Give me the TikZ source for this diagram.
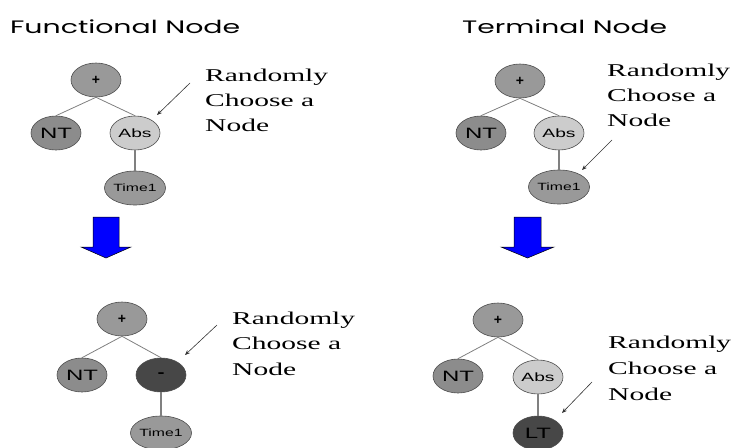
\documentclass[tikz,border=0pt]{standalone}
\usepackage{fontspec}
\usepackage{graphicx}
\usetikzlibrary{shapes.geometric,arrows.meta}
\newfontfamily\titlefamily{Poppins}
\newfontfamily\notefamily{Liberation Serif}
\newfontfamily\labelfamily{Liberation Sans}
% horizontally stretched text
\newcommand\stretchx[2][1.64]{\scalebox{#1}[1]{#2}}
\tikzset{
  gpnode/.style={ellipse, draw=black!70, line width=0.6pt, minimum width=50pt,
    minimum height=34pt, inner sep=0pt, font=\labelfamily},
  fillmid/.style={gpnode, fill=black!40},
  fillsoft/.style={gpnode, fill=black!45},
  filllight/.style={gpnode, fill=black!20},
  filldark/.style={gpnode, fill=black!72},
  branch/.style={draw=black!50, line width=0.8pt},
  stem/.style={draw=black!50, line width=1.2pt},
  pointer/.style={draw=black!80, line width=0.6pt, -{Stealth[length=5pt,width=4pt]}},
  noteline/.style={anchor=base west, inner sep=0pt, font=\notefamily\fontsize{18}{25}\selectfont},
  titletext/.style={anchor=base west, inner sep=0pt, font=\titlefamily\fontsize{18}{22}\selectfont},
  bluearrow/.style={fill=blue, draw=black, line width=0.5pt}
}
\newcommand\NTlabel{{\fontsize{15}{15}\selectfont\stretchx[1.6]{NT}}}
\newcommand\LTlabel{{\fontsize{15}{15}\selectfont\stretchx[1.6]{LT}}}
\newcommand\Abslabel{{\fontsize{12}{12}\selectfont\stretchx[1.6]{Abs}}}
\newcommand\Timelabel{{\fontsize{10.5}{10.5}\selectfont\stretchx[1.5]{Time1}}}
\newcommand\pluslabel{{\fontsize{14}{14}\selectfont\bfseries +}}
\newcommand\minuslabel{{\fontsize{15}{15}\selectfont\bfseries\stretchx[1.4]{-}}}
\begin{document}
\begin{tikzpicture}[x=1pt, y=-1pt]
\useasboundingbox (0,0) rectangle (741,447);

% headings
\node[titletext] (titleF) at (10,33) {\resizebox{230pt}{\height}{Functional Node}};
\node[titletext] (titleT) at (462,33) {\resizebox{205pt}{\height}{Terminal Node}};

% ---- functional node, before
\node[fillmid]   (p1)   at (96,80)  {\pluslabel};
\node[fillsoft]  (nt1)  at (56,133) {\NTlabel};
\node[filllight] (abs1) at (135,133) {\Abslabel};
\node[fillmid]   (tm1)  at (135,188) {\Timelabel};
\draw[branch] (p1.south) -- (nt1.north);
\draw[branch] (p1.south) -- (abs1.north);
\draw[stem] (abs1) -- (tm1);
\coordinate (ptA) at (190,83);
\coordinate (hdA) at (157,115);
\draw[pointer] (ptA) -- (hdA);
\node[noteline] (nA1) at (205,81)  {\stretchx{Randomly}};
\node[noteline] (nA2) at (205,106) {\stretchx{Choose a}};
\node[noteline] (nA3) at (205,131) {\stretchx{Node}};

% ---- terminal node, before
\node[fillmid]   (p2)   at (520,81)  {\pluslabel};
\node[fillsoft]  (nt2)  at (481,133) {\NTlabel};
\node[filllight] (abs2) at (559,133) {\Abslabel};
\node[fillmid]   (tm2)  at (559,187) {\Timelabel};
\draw[branch] (p2.south) -- (nt2.north);
\draw[branch] (p2.south) -- (abs2.north);
\draw[stem] (abs2) -- (tm2);
\coordinate (ptB) at (612,140);
\coordinate (hdB) at (582,170);
\draw[pointer] (ptB) -- (hdB);
\node[noteline] (nB1) at (607,76)  {\stretchx{Randomly}};
\node[noteline] (nB2) at (607,101) {\stretchx{Choose a}};
\node[noteline] (nB3) at (607,126) {\stretchx{Node}};

% ---- blue down arrows
\draw[bluearrow] (93,217) -- (119,217) -- (119,247) -- (131,247) -- (106,258)
  -- (81,247) -- (93,247) -- cycle;
\draw[bluearrow] (514,217) -- (541,217) -- (541,247) -- (554,247) -- (527.5,258)
  -- (501,247) -- (514,247) -- cycle;

% ---- functional node, after
\node[fillmid]   (p3)  at (122,319) {\pluslabel};
\node[fillsoft]  (nt3) at (82,375)  {\NTlabel};
\node[filldark]  (mn3) at (161,375) {\minuslabel};
\node[fillmid]   (tm3) at (161,433) {\Timelabel};
\draw[branch] (p3.south) -- (nt3.north);
\draw[branch] (p3.south) -- (mn3.north);
\draw[stem] (mn3) -- (tm3);
\coordinate (ptC) at (217,325);
\coordinate (hdC) at (185,355);
\draw[pointer] (ptC) -- (hdC);
\node[noteline] (nC1) at (232,324) {\stretchx{Randomly}};
\node[noteline] (nC2) at (232,349) {\stretchx{Choose a}};
\node[noteline] (nC3) at (232,375) {\stretchx{Node}};

% ---- terminal node, after
\node[fillmid]   (p4)   at (498,320) {\pluslabel};
\node[fillsoft]  (nt4)  at (458,376) {\NTlabel};
\node[filllight] (abs4) at (538,377) {\Abslabel};
\node[filldark]  (lt4)  at (538,433) {\LTlabel};
\draw[branch] (p4.south) -- (nt4.north);
\draw[branch] (p4.south) -- (abs4.north);
\draw[stem] (abs4) -- (lt4);
\coordinate (ptD) at (592,382);
\coordinate (hdD) at (562,413);
\draw[pointer] (ptD) -- (hdD);
\node[noteline] (nD1) at (608,348) {\stretchx{Randomly}};
\node[noteline] (nD2) at (608,374) {\stretchx{Choose a}};
\node[noteline] (nD3) at (608,400) {\stretchx{Node}};
\end{tikzpicture}
\end{document}
